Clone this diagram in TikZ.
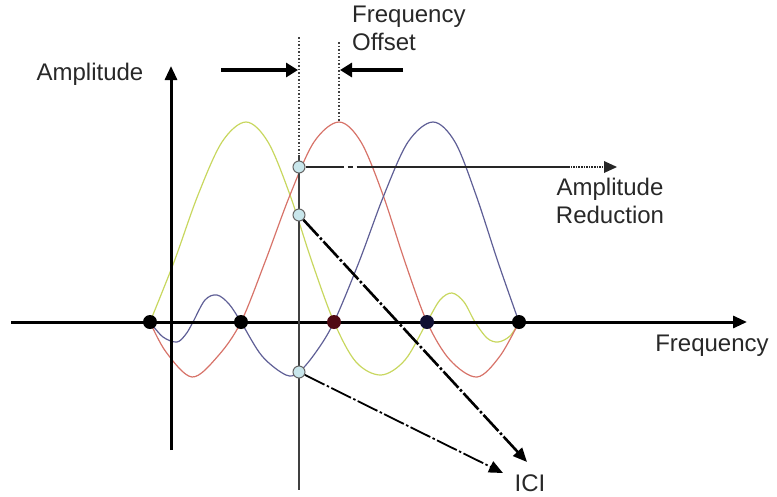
\documentclass[tikz,border=0pt]{standalone}
\usepackage{fontspec}
\setmainfont{Liberation Sans}
\usetikzlibrary{arrows.meta}
\definecolor{cyel}{RGB}{200,215,95}
\definecolor{cred}{RGB}{215,115,105}
\definecolor{cblu}{RGB}{95,95,150}
\definecolor{cdot}{RGB}{200,230,235}
\definecolor{ctxt}{RGB}{40,40,40}
\definecolor{cmar}{RGB}{80,10,20}
\definecolor{cnav}{RGB}{15,15,50}
\begin{document}
\begin{tikzpicture}[x=1pt,y=-1pt,
  lbl/.style={font=\fontsize{24}{28}\selectfont, text=ctxt, inner sep=0pt},
  curve/.style={line width=1.2pt, smooth, tension=0.55},
  axisline/.style={line width=3pt, black, -{Triangle[length=14pt,width=12pt]}},
  offarrow/.style={line width=4pt, black, -{Triangle[length=12pt,width=14pt]}},
  guide/.style={line width=1.5pt, black!75, dotted},
  dotnode/.style={circle, fill=black, minimum size=14pt, inner sep=0pt},
  ringnode/.style={circle, draw=black!60, fill=cdot, line width=1pt, minimum size=12pt, inner sep=0pt},
  iciarrow/.style={black, dash pattern=on 22pt off 2.5pt on 2.5pt off 2.5pt, -{Triangle[length=14pt,width=12pt]}}
]
\useasboundingbox (0,0) rectangle (777,496);

% curves
\draw[curve, cyel] plot coordinates {(150,322) (174,262) (198,195) (222,142) (246,122) (268,142) (290,195) (312,262) (334,322) (356,362) (381,375) (405,360) (427,322) (440,300) (452,293) (464,302) (475,322) (487,338) (498,342) (510,336) (519,322)};
\draw[curve, cred] plot coordinates {(150,322) (166,352) (192,377) (218,356) (241,322) (265,262) (290,195) (314,142) (339,122) (361,142) (383,195) (405,262) (427,322) (450,360) (477,377) (500,356) (519,322)};
\draw[curve, cblu] plot coordinates {(150,322) (163,337) (177,342) (186,334) (193,322) (205,300) (217,295) (229,304) (241,322) (262,356) (286,375) (299,372) (316,352) (334,322) (359,262) (384,195) (408,142) (433,122) (455,142) (476,195) (498,262) (519,322)};

% axes
\coordinate (xs) at (11,322);
\coordinate (xe) at (747,322);
\coordinate (ys) at (171,450);
\coordinate (ye) at (171,66);
\draw[axisline] (xs) -- (xe);
\draw[axisline] (ys) -- (ye);

% guide lines
\coordinate (va) at (299,37);
\coordinate (vb) at (299,155);
\coordinate (vc) at (299,490);
\coordinate (wa) at (339,42);
\coordinate (wb) at (339,122);
\draw[guide] (va) -- (vb);
\draw[line width=1.5pt, black!75] (vb) -- (vc);
\draw[guide] (wa) -- (wb);

% zero dots
\node[dotnode] (d1) at (150,322) {};
\node[dotnode] (d2) at (241,322) {};
\node[dotnode, fill=cmar] (d3) at (334,322) {};
\node[dotnode, fill=cnav] (d4) at (427,322) {};
\node[dotnode] (d5) at (519,322) {};

% rings
\node[ringnode] (c1) at (299,167) {};
\node[ringnode] (c2) at (299,215) {};
\node[ringnode] (c3) at (299,372) {};

% labels
\node[lbl] (amp) at (90,74) {Amplitude};
\node[lbl, align=left, anchor=north west] (fo) at (352,6) {Frequency\\Offset};
\node[lbl, align=center] (red) at (610,201) {Amplitude\\Reduction};
\node[lbl] (fq) at (712,346) {Frequency};
\node[lbl] (ici) at (530,483) {ICI};

% frequency offset arrows
\coordinate (oa) at (221,70);
\coordinate (ob) at (298,70);
\coordinate (oc) at (403,70);
\coordinate (od) at (340,70);
\draw[offarrow] (oa) -- (ob);
\draw[offarrow] (oc) -- (od);

% amplitude reduction arrow
\coordinate (m1) at (568,167);
\coordinate (m2) at (617,167);
\draw[line width=1.6pt, black!85, dash pattern=on 38pt off 4pt on 5pt off 4pt on 600pt off 1pt] (c1) -- (m1);
\draw[line width=1.6pt, black!85, densely dotted, -{Triangle[length=13pt,width=12pt,line width=0pt]}] (m1) -- (m2);

% ICI arrows
\coordinate (i1) at (527,462);
\coordinate (i2) at (503,473);
\draw[iciarrow, line width=2.6pt] (c2) -- (i1);
\draw[iciarrow, line width=1.8pt] (c3) -- (i2);
\end{tikzpicture}
\end{document}
